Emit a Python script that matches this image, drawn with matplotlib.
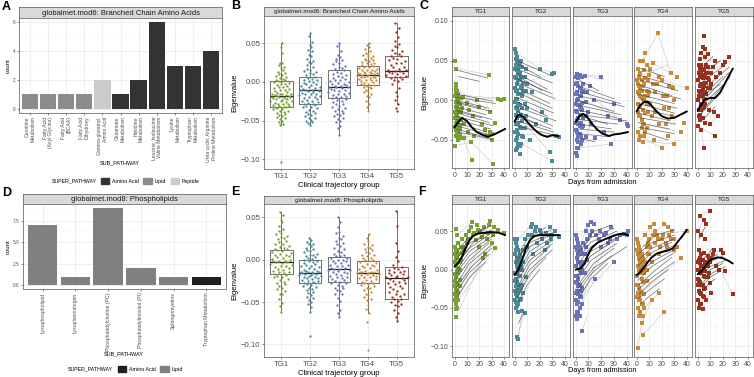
import numpy as np
import matplotlib.pyplot as plt
from matplotlib.patches import Patch

plt.rcParams['font.family'] = ['Liberation Sans', 'DejaVu Sans']

W, H = 754, 377
fig = plt.figure(figsize=(W / 100, H / 100), dpi=100)

# ---------------- data ----------------
a_sub = ["Carnitine\nMetabolism", "Fatty Acid\n(Acyl Glycine)", "Fatty Acid\n(BCAA)",
         "Fatty Acid\nDihydroxy", "Gamma-glutamyl\nAmino Acid", "Glutamate\nMetabolism",
         "Histidine\nMetabolism", "Leucine, Isoleucine\nValine Metabolism", "Lysine\nMetabolism",
         "Tryptophan\nMetabolism", "Urea cycle; Arginine\nProline Metabolism"]
a_count = [1, 1, 1, 1, 2, 1, 2, 6, 3, 3, 4]
a_super = ["Lipid"] * 4 + ["Peptide"] + ["Amino Acid"] * 6

d_sub = ["Lysophospholipid", "Lysoplasmalogen", "Phosphatidylcholine (PC)",
         "Phosphatidylinositol (PI)", "Sphingomyelins", "Tryptophan Metabolism"]
d_count = [7, 1, 9, 2, 1, 1]
d_super = ["Lipid"] * 5 + ["Amino Acid"]

groups = ["TG1", "TG2", "TG3", "TG4", "TG5"]
tg_colors = ["#78a132", "#4b8a99", "#6a74b8", "#c88b3a", "#9c301d"]

# box stats: q1, median, q3, lower whisker, upper whisker
b_box = [(-0.033, -0.018, 0.001, -0.056, 0.050),
         (-0.028, -0.011, 0.006, -0.056, 0.063),
         (-0.021, -0.006, 0.015, -0.069, 0.050),
         (-0.004, 0.009, 0.021, -0.037, 0.050),
         (0.006, 0.014, 0.033, -0.028, 0.076)]
b_vals = [
    [0.050, 0.045, 0.038, 0.025, 0.024, 0.022, 0.018, 0.015, 0.012, 0.010, 0.008, 0.006, 0.004, 0.003,
     0.002, 0.001, 0.000, -0.001, -0.003, -0.004, -0.006, -0.008, -0.009, -0.011, -0.012, -0.014, -0.015,
     -0.016, -0.017, -0.018, -0.018, -0.019, -0.020, -0.021, -0.022, -0.024, -0.025, -0.027, -0.028,
     -0.030, -0.031, -0.032, -0.033, -0.034, -0.035, -0.037, -0.039, -0.041, -0.043, -0.045, -0.048,
     -0.051, -0.054, -0.056, -0.104,
     -0.002, -0.005, -0.007, -0.010, -0.013, -0.015, -0.017, -0.019, -0.020, -0.021, -0.022, -0.023,
     -0.024, -0.026, -0.028, -0.029, -0.031, -0.033, -0.035, -0.038, -0.040, -0.044, -0.047, -0.052,
     0.000, 0.005, 0.009, 0.013, 0.020, -0.016],
    [0.063, 0.060, 0.052, 0.048, 0.045, 0.040, 0.035, 0.030, 0.027, 0.024, 0.020, 0.017, 0.014, 0.011,
     0.009, 0.007, 0.005, 0.003, 0.001, -0.001, -0.003, -0.005, -0.007, -0.008, -0.010, -0.011, -0.012,
     -0.013, -0.015, -0.016, -0.018, -0.020, -0.022, -0.024, -0.026, -0.028, -0.030, -0.032, -0.034,
     -0.036, -0.039, -0.041, -0.044, -0.047, -0.050, -0.053, -0.056,
     0.004, 0.002, 0.000, -0.002, -0.004, -0.006, -0.009, -0.010, -0.011, -0.012, -0.014, -0.015,
     -0.017, -0.019, -0.021, -0.023, -0.025, -0.027, -0.029, -0.031, -0.033, -0.037, -0.040, -0.043,
     -0.046, -0.049, 0.010, 0.013, 0.016, 0.022, 0.026, 0.033, 0.042, -0.052],
    [0.050, 0.046, 0.040, 0.035, 0.032, 0.028, 0.025, 0.021, 0.018, 0.015, 0.013, 0.010, 0.008, 0.005,
     0.003, 0.001, -0.001, -0.003, -0.005, -0.006, -0.007, -0.009, -0.011, -0.013, -0.015, -0.017,
     -0.019, -0.021, -0.023, -0.026, -0.029, -0.032, -0.035, -0.038, -0.041, -0.044, -0.048, -0.052,
     -0.057, -0.060, -0.069,
     0.012, 0.009, 0.006, 0.004, 0.002, 0.000, -0.002, -0.004, -0.005, -0.006, -0.008, -0.010, -0.012,
     -0.014, -0.016, -0.018, -0.020, -0.022, -0.025, -0.028, -0.031, -0.034, -0.037, -0.040, -0.043,
     0.017, 0.020, 0.023, 0.027, 0.030, -0.047, -0.050],
    [0.050, 0.048, 0.045, 0.040, 0.036, 0.034, 0.031, 0.029, 0.027, 0.025, 0.023, 0.021, 0.020, 0.018,
     0.016, 0.015, 0.013, 0.012, 0.011, 0.010, 0.009, 0.009, 0.008, 0.007, 0.006, 0.004, 0.003, 0.002,
     0.000, -0.002, -0.004, -0.005, -0.007, -0.010, -0.013, -0.016, -0.020, -0.025, -0.028, -0.033, -0.037,
     0.019, 0.017, 0.015, 0.014, 0.012, 0.010, 0.008, 0.007, 0.006, 0.005, 0.003, 0.001, -0.001, -0.003,
     -0.006, 0.022, 0.024, 0.026, 0.028, 0.030, 0.033, 0.011, 0.009, 0.013, -0.008, -0.012, -0.018,
     0.035, 0.038, 0.043],
    [0.076, 0.070, 0.065, 0.058, 0.053, 0.049, 0.045, 0.041, 0.037, 0.034, 0.031, 0.028, 0.025, 0.022,
     0.019, 0.017, 0.015, 0.014, 0.013, 0.011, 0.009, 0.007, 0.006, 0.004, 0.001, -0.003, -0.008,
     -0.013, -0.018, -0.023, -0.028, -0.034, -0.037,
     0.030, 0.027, 0.024, 0.020, 0.016, 0.014, 0.012, 0.010, 0.008, 0.005, 0.033, 0.036, 0.040, 0.047, 0.003],
]

e_box = [(-0.017, -0.003, 0.011, -0.062, 0.056),
         (-0.027, -0.016, -0.000, -0.062, 0.025),
         (-0.026, -0.011, 0.003, -0.068, 0.050),
         (-0.028, -0.016, -0.002, -0.063, 0.030),
         (-0.046, -0.022, -0.009, -0.072, 0.057)]
e_vals = [
    [0.056, 0.053, 0.047, 0.044, 0.040, 0.036, 0.032, 0.028, 0.025, 0.022, 0.019, 0.016, 0.014, 0.012,
     0.010, 0.008, 0.006, 0.004, 0.002, 0.001, -0.001, -0.002, -0.003, -0.004, -0.006, -0.008, -0.010,
     -0.012, -0.014, -0.016, -0.018, -0.020, -0.023, -0.026, -0.029, -0.033, -0.037, -0.041, -0.046,
     -0.051, -0.055, -0.062,
     0.009, 0.007, 0.005, 0.003, 0.000, -0.001, -0.003, -0.005, -0.007, -0.009, -0.011, -0.013, -0.015,
     -0.017, -0.019, -0.021, 0.011, 0.013, 0.015, 0.018, 0.021, 0.024, 0.027, 0.030, -0.024, -0.028,
     -0.031, -0.035, -0.040, 0.034],
    [0.025, 0.023, 0.021, 0.018, 0.016, 0.013, 0.011, 0.009, 0.007, 0.005, 0.003, 0.001, -0.001, -0.003,
     -0.005, -0.007, -0.009, -0.011, -0.013, -0.014, -0.015, -0.016, -0.017, -0.018, -0.019, -0.021,
     -0.022, -0.024, -0.025, -0.027, -0.029, -0.031, -0.033, -0.036, -0.039, -0.042, -0.045, -0.048,
     -0.052, -0.056, -0.062, -0.090,
     -0.002, -0.004, -0.006, -0.008, -0.010, -0.012, -0.013, -0.014, -0.015, -0.016, -0.017, -0.018,
     -0.019, -0.020, -0.022, -0.023, -0.025, -0.026, -0.028, -0.030, -0.032, -0.035, -0.038, 0.000,
     0.002, 0.004, 0.006, 0.010, 0.014, 0.019, -0.044, -0.050],
    [0.050, 0.045, 0.038, 0.033, 0.028, 0.024, 0.020, 0.016, 0.012, 0.009, 0.006, 0.004, 0.002, 0.000,
     -0.002, -0.004, -0.006, -0.008, -0.010, -0.011, -0.012, -0.014, -0.016, -0.018, -0.020, -0.022,
     -0.024, -0.026, -0.028, -0.031, -0.034, -0.037, -0.041, -0.045, -0.049, -0.054, -0.059, -0.063, -0.068,
     0.002, 0.000, -0.002, -0.004, -0.006, -0.008, -0.010, -0.011, -0.012, -0.013, -0.015, -0.017,
     -0.019, -0.021, -0.023, -0.025, 0.004, 0.007, 0.010, 0.014, 0.018, 0.022, 0.026, 0.031, -0.027,
     -0.030, -0.033, -0.036, -0.040],
    [0.030, 0.026, 0.022, 0.018, 0.015, 0.012, 0.009, 0.006, 0.004, 0.002, 0.000, -0.002, -0.004, -0.006,
     -0.008, -0.010, -0.012, -0.014, -0.015, -0.016, -0.017, -0.018, -0.020, -0.022, -0.024, -0.026,
     -0.028, -0.030, -0.033, -0.036, -0.040, -0.044, -0.048, -0.053, -0.058, -0.063, -0.073, -0.107,
     -0.003, -0.005, -0.007, -0.009, -0.011, -0.013, -0.014, -0.015, -0.016, -0.017, -0.018, -0.019,
     -0.021, -0.023, -0.025, -0.027, -0.029, 0.000, 0.002, 0.005, 0.008, 0.011, 0.014, 0.017, -0.031,
     -0.034, -0.038, -0.042, -0.046],
    [0.057, 0.040, 0.020, 0.010, 0.003, -0.002, -0.006, -0.009, -0.011, -0.013, -0.015, -0.017, -0.019,
     -0.021, -0.022, -0.023, -0.025, -0.027, -0.029, -0.032, -0.035, -0.038, -0.041, -0.044, -0.046,
     -0.049, -0.052, -0.055, -0.059, -0.063, -0.068, -0.072,
     -0.010, -0.012, -0.014, -0.016, -0.018, -0.020, -0.021, -0.024, -0.026, -0.028, -0.031, -0.034,
     -0.037, -0.040, -0.043, -0.047, -0.050, -0.054],
]

# panel C: observations (day, value), per-patient fits and raw links (d0, v0, d1, v1 ...)
c_pts = [
    [(0, 0.049), (0, -0.057), (1, 0.040), (1, 0.010), (1, 0.005), (1, -0.020), (2, 0.002), (2, -0.005),
     (2, -0.010), (2, -0.025), (2, -0.030), (3, 0.000), (3, -0.015), (3, -0.036), (3, -0.040), (4, -0.044),
     (4, -0.048), (5, 0.003), (1, -0.028), (2, -0.018), (0, -0.033), (1, 0.015), (3, -0.022), (2, -0.035),
     (4, -0.012), (1, -0.008), (2, 0.007), (3, -0.042), (7, 0.004), (8, -0.048), (10, -0.003), (12, -0.012),
     (13, -0.053), (14, -0.075), (15, -0.020), (18, 0.001), (20, -0.008), (22, -0.030), (25, -0.038),
     (28, 0.032), (29, -0.015), (30, -0.043), (30, -0.050), (31, -0.080), (33, -0.028), (35, 0.002),
     (38, 0.000), (40, 0.002),
     (0, 0.005), (1, -0.002), (2, -0.013), (3, -0.027), (4, -0.031), (1, -0.038), (2, -0.045), (0, -0.015),
     (3, 0.008), (1, 0.020), (4, -0.005), (2, -0.040), (5, -0.025), (3, -0.050), (0, -0.022), (6, -0.010),
     (1, -0.045), (2, 0.012), (4, -0.036), (5, -0.015), (8, -0.030), (11, -0.040), (16, -0.045),
     (26, -0.045), (29, -0.040)],
    [(0, 0.065), (1, 0.060), (1, 0.052), (2, 0.050), (3, 0.048), (4, 0.045), (5, 0.050), (6, 0.042),
     (2, 0.038), (3, 0.033), (1, 0.028), (4, 0.025), (2, 0.020), (5, 0.017), (1, 0.012), (3, 0.008),
     (6, 0.005), (2, 0.002), (0, -0.002), (4, -0.006), (1, -0.010), (3, -0.014), (5, -0.018), (2, -0.022),
     (6, -0.026), (1, -0.030), (4, -0.034), (2, -0.038), (3, -0.042), (7, -0.046), (1, -0.050), (5, -0.055),
     (2, -0.060), (4, -0.068), (8, 0.030), (9, 0.012), (10, -0.010), (8, -0.035), (12, -0.050), (14, 0.010),
     (17, -0.030), (20, 0.040), (22, -0.015), (25, -0.025), (28, -0.065), (30, 0.033), (31, 0.035),
     (30, -0.077), (33, -0.045), (35, -0.046), (7, 0.022), (9, -0.020), (0, 0.030), (3, -0.004),
     (0, 0.040), (1, 0.045), (2, 0.055), (3, 0.025), (4, 0.035), (5, 0.030), (6, 0.015), (0, 0.015),
     (1, 0.002), (2, -0.008), (3, -0.028), (4, -0.020), (5, -0.035), (6, -0.045), (0, -0.040), (1, -0.018),
     (2, -0.048), (3, -0.055), (7, 0.010), (8, -0.005), (4, -0.058), (5, 0.008), (1, -0.062), (6, -0.010),
     (3, 0.040), (2, 0.012), (9, 0.040), (10, 0.020)],
    [(0, 0.030), (1, 0.033), (2, 0.028), (3, 0.032), (5, 0.030), (7, 0.031), (1, 0.022), (2, 0.018),
     (4, 0.015), (6, 0.012), (0, 0.008), (3, 0.005), (1, 0.000), (5, -0.003), (2, -0.006), (4, -0.010),
     (0, -0.014), (3, -0.018), (6, -0.022), (1, -0.025), (2, -0.030), (5, -0.034), (0, -0.038), (3, -0.042),
     (8, -0.046), (1, -0.050), (4, -0.055), (2, -0.060), (0, -0.066), (1, -0.070), (9, 0.010), (10, -0.015),
     (12, -0.030), (14, 0.000), (20, 0.030), (15, -0.048), (22, -0.040), (25, -0.020), (28, -0.055),
     (30, -0.005), (35, -0.025), (40, -0.030), (41, -0.032), (8, -0.002), (11, 0.018), (4, -0.028),
     (0, 0.020), (1, 0.010), (2, 0.002), (3, -0.008), (4, -0.018), (5, -0.012), (6, -0.032), (0, -0.005),
     (1, -0.015), (2, -0.022), (3, -0.032), (4, -0.045), (5, -0.050), (6, 0.020), (0, -0.028), (1, -0.040),
     (2, -0.045), (3, 0.015), (7, 0.010), (8, -0.020), (4, 0.005), (2, -0.052), (5, 0.010), (1, -0.060)],
    [(17, 0.085), (5, 0.050), (8, 0.045), (13, 0.047), (1, 0.040), (3, 0.035), (6, 0.038), (2, 0.030),
     (4, 0.025), (7, 0.028), (10, 0.032), (1, 0.020), (3, 0.015), (5, 0.018), (8, 0.012), (2, 0.008),
     (4, 0.004), (6, 0.000), (9, 0.006), (1, -0.004), (3, -0.008), (5, -0.012), (7, -0.016), (2, -0.020),
     (4, -0.025), (6, -0.030), (8, -0.035), (1, -0.040), (3, -0.045), (5, -0.052), (12, -0.020), (15, 0.010),
     (18, -0.030), (20, 0.025), (22, -0.010), (24, 0.005), (25, -0.045), (27, 0.035), (28, -0.020),
     (30, 0.000), (30, -0.055), (32, 0.030), (35, -0.040), (40, 0.015), (38, -0.028), (11, 0.040),
     (14, -0.050), (20, -0.060), (16, 0.020), (26, 0.018),
     (0, 0.025), (1, 0.010), (2, 0.018), (3, 0.005), (4, 0.012), (5, 0.002), (6, 0.020), (7, 0.005),
     (8, -0.005), (9, -0.015), (1, -0.015), (2, -0.008), (3, -0.020), (4, -0.035), (5, -0.030),
     (6, -0.045), (7, -0.040), (2, -0.050), (9, 0.025), (10, 0.010), (11, -0.005), (13, 0.020),
     (15, -0.015), (18, 0.030), (21, 0.005), (23, -0.030), (26, -0.010), (29, 0.015), (7, 0.060), (3, 0.050)],
    [(5, 0.081), (4, 0.067), (6, 0.055), (2, 0.052), (8, 0.058), (3, 0.045), (5, 0.040), (7, 0.045),
     (1, 0.035), (2, 0.030), (4, 0.028), (6, 0.032), (9, 0.035), (0, 0.025), (3, 0.020), (5, 0.018),
     (7, 0.022), (1, 0.012), (2, 0.008), (4, 0.005), (6, 0.010), (8, 0.015), (0, 0.000), (3, -0.004),
     (5, -0.008), (1, -0.012), (2, -0.018), (4, -0.022), (6, -0.028), (0, -0.032), (3, -0.038), (12, 0.042),
     (14, 0.050), (11, 0.020), (13, -0.015), (10, -0.030), (15, 0.030), (18, 0.035), (20, 0.045),
     (22, 0.048), (25, 0.055), (14, -0.045), (5, -0.060), (2, -0.025), (9, -0.012), (16, -0.020),
     (1, 0.045), (2, 0.040), (3, 0.035), (4, 0.038), (5, 0.030), (6, 0.022), (7, 0.035), (8, 0.028),
     (1, 0.005), (2, 0.018), (3, 0.010), (4, 0.015), (5, 0.002), (6, -0.005), (7, 0.008), (1, -0.020),
     (3, -0.012), (4, -0.010), (8, 0.042), (9, 0.025), (10, 0.015), (11, 0.035), (3, 0.060), (6, 0.065)],
]
c_fits = [
    [(2, 0.038, 27, 0.028), (3, 0.030, 20, 0.024), (1, 0.008, 31, -0.001), (1, 0.004, 33, -0.004),
     (1, 0.000, 28, -0.010), (2, -0.004, 30, -0.014), (1, -0.008, 25, -0.018), (1, -0.012, 30, -0.024),
     (2, -0.016, 28, -0.028), (1, -0.020, 31, -0.032), (1, -0.024, 29, -0.036), (2, -0.028, 26, -0.040),
     (1, -0.032, 30, -0.044), (1, -0.036, 24, -0.046), (3, -0.040, 30, -0.049), (1, -0.002, 20, -0.009),
     (2, -0.014, 22, -0.022)],
    [(2, 0.050, 28, 0.032), (3, 0.045, 20, 0.030), (1, 0.040, 30, 0.022), (2, 0.034, 26, 0.014),
     (1, 0.028, 30, 0.008), (2, 0.022, 32, 0.002), (1, 0.016, 28, -0.004), (2, 0.010, 30, -0.010),
     (1, 0.004, 31, -0.016), (2, -0.002, 26, -0.020), (1, -0.008, 33, -0.026), (2, -0.014, 30, -0.032),
     (1, -0.020, 29, -0.036), (2, -0.026, 31, -0.040), (1, -0.032, 35, -0.045), (3, 0.030, 22, 0.012),
     (2, -0.018, 18, -0.030)],
    [(3, 0.025, 18, 0.012), (2, 0.018, 30, 0.002), (1, 0.012, 35, -0.004), (2, 0.006, 38, -0.008),
     (1, 0.000, 30, -0.014), (2, -0.006, 35, -0.018), (1, -0.012, 32, -0.022), (3, -0.018, 40, -0.026),
     (1, -0.024, 33, -0.030), (2, -0.030, 28, -0.036), (1, -0.036, 30, -0.040), (2, -0.042, 27, -0.046),
     (5, -0.020, 25, -0.030), (3, -0.048, 15, -0.052)],
    [(1, 0.032, 30, 0.018), (2, 0.026, 33, 0.012), (1, 0.020, 28, 0.006), (2, 0.014, 35, 0.002),
     (1, 0.008, 30, -0.004), (2, 0.002, 32, -0.010), (1, -0.004, 30, -0.016), (2, -0.010, 29, -0.020),
     (1, -0.016, 27, -0.026), (3, -0.022, 31, -0.030), (1, -0.028, 26, -0.036), (2, -0.034, 30, -0.042),
     (3, 0.040, 22, 0.030), (5, -0.040, 25, -0.050)],
    [(2, 0.030, 18, 0.050), (1, 0.020, 22, 0.045), (2, 0.010, 25, 0.042), (1, 0.000, 20, 0.030),
     (2, -0.005, 25, 0.035), (1, -0.010, 22, 0.022), (3, -0.015, 26, 0.030), (1, -0.020, 15, 0.005),
     (2, 0.040, 12, 0.055), (3, 0.005, 18, 0.020), (4, -0.025, 14, -0.008)],
]
c_raw = [
    [(2, 0.040, 28, 0.032), (1, 0.010, 15, -0.005), (2, -0.030, 14, -0.075), (1, -0.057, 13, -0.053),
     (3, -0.036, 31, -0.080), (4, -0.044, 30, -0.050), (5, 0.003, 35, 0.002), (1, 0.015, 29, -0.015),
     (2, 0.007, 40, 0.002)],
    [(1, 0.060, 20, 0.040), (4, 0.045, 31, 0.035), (2, 0.020, 30, 0.033), (6, -0.026, 28, -0.065),
     (1, -0.050, 30, -0.077), (2, -0.060, 12, -0.050), (5, 0.017, 22, -0.015), (3, -0.042, 33, -0.045),
     (8, -0.035, 17, -0.030)],
    [(1, 0.033, 20, 0.030), (7, 0.031, 22, 0.026), (4, -0.055, 15, -0.048), (2, -0.060, 28, -0.055),
     (0, -0.066, 8, -0.046), (6, 0.012, 40, -0.030), (3, 0.005, 35, -0.025), (1, -0.070, 12, -0.030)],
    [(5, 0.050, 17, 0.085), (17, 0.085, 27, 0.035), (8, 0.045, 20, 0.025), (13, 0.047, 32, 0.030),
     (3, -0.045, 20, -0.060), (5, -0.052, 30, -0.055), (10, 0.032, 40, 0.015), (6, -0.030, 35, -0.040),
     (2, 0.030, 25, 0.045)],
    [(4, 0.067, 8, 0.058), (1, 0.035, 25, 0.055), (0, -0.032, 14, -0.045), (3, -0.038, 5, -0.060),
     (2, 0.052, 14, 0.050), (6, 0.032, 20, 0.045), (10, -0.030, 16, -0.020)],
]
c_smooth_days = [[0, 3, 6, 10, 14, 18, 22, 27, 32, 36, 41],
                 [0, 2, 4, 7, 10, 14, 18, 22, 26, 30, 35],
                 [0, 3, 6, 9, 13, 17, 21, 26, 30, 35, 41],
                 [0, 3, 6, 9, 12, 16, 20, 25, 30, 35, 40],
                 [0, 3, 6, 10, 14, 18, 22, 25, 28]]
c_smooth_vals = [[-0.034, -0.027, -0.022, -0.026, -0.034, -0.040, -0.043, -0.046, -0.043, -0.040, -0.036],
                 [-0.027, -0.020, -0.018, -0.021, -0.027, -0.034, -0.040, -0.044, -0.046, -0.044, -0.045],
                 [-0.027, -0.020, -0.017, -0.021, -0.030, -0.037, -0.042, -0.045, -0.043, -0.042, -0.040],
                 [-0.014, -0.006, -0.002, -0.002, -0.007, -0.014, -0.020, -0.023, -0.022, -0.018, -0.014],
                 [-0.013, -0.005, 0.001, 0.003, 0.003, 0.010, 0.022, 0.031, 0.040]]

# panel F
f_pts = [
    [(1, 0.053), (2, 0.045), (0, 0.030), (1, 0.025), (3, 0.020), (2, 0.015), (0, 0.010), (1, 0.005),
     (3, 0.002), (2, -0.002), (0, -0.006), (1, -0.010), (4, -0.014), (2, -0.018), (0, -0.022), (1, -0.026),
     (3, -0.030), (2, -0.035), (0, -0.040), (1, -0.045), (2, -0.050), (1, -0.062), (4, 0.010), (5, 0.030),
     (6, 0.040), (8, 0.025), (10, 0.035), (12, 0.050), (14, 0.062), (15, 0.045), (17, 0.038), (19, 0.052),
     (20, 0.030), (22, 0.042), (24, 0.055), (25, 0.020), (27, 0.048), (28, 0.058), (29, 0.063), (30, 0.035),
     (31, 0.045), (33, 0.028), (35, 0.052), (40, 0.048), (23, 0.015), (18, 0.058),
     (0, 0.020), (1, 0.015), (2, 0.008), (3, -0.005), (4, 0.000), (0, -0.015), (1, -0.020), (2, -0.028),
     (3, -0.040), (0, -0.032), (1, -0.035), (2, 0.025), (4, -0.022), (5, 0.012), (6, 0.022), (1, -0.052),
     (3, 0.035), (7, 0.030), (9, 0.045), (11, 0.040), (13, 0.055), (16, 0.048), (21, 0.050), (26, 0.040),
     (32, 0.055)],
    [(0, 0.040), (1, 0.035), (2, 0.030), (3, 0.025), (4, 0.020), (5, 0.015), (1, 0.010), (2, 0.005),
     (3, 0.000), (0, -0.004), (4, -0.008), (1, -0.012), (2, -0.016), (3, -0.020), (5, -0.024), (0, -0.028),
     (1, -0.032), (2, -0.036), (4, -0.040), (3, -0.045), (1, -0.050), (6, -0.054), (8, -0.056), (2, -0.088),
     (3, -0.090), (6, 0.010), (7, 0.025), (8, 0.040), (10, 0.030), (12, 0.045), (13, 0.055), (14, 0.060),
     (16, 0.050), (18, 0.035), (20, 0.052), (22, 0.040), (24, 0.025), (25, 0.048), (28, 0.055), (30, 0.045),
     (32, 0.050), (35, 0.042), (9, -0.010), (15, 0.020), (26, 0.035), (2, -0.006), (4, 0.006),
     (0, 0.020), (1, 0.025), (2, 0.015), (3, 0.010), (4, 0.002), (5, 0.005), (0, -0.015), (1, -0.022),
     (2, -0.026), (3, -0.030), (4, -0.028), (5, -0.038), (0, -0.040), (1, -0.042), (2, -0.048),
     (3, -0.055), (6, 0.000), (7, 0.010), (6, -0.020), (7, -0.030), (9, 0.030), (11, 0.045), (14, 0.045),
     (17, 0.055), (21, 0.048), (27, 0.045), (29, 0.040), (2, 0.040)],
    [(0, 0.045), (1, 0.040), (2, 0.035), (3, 0.030), (4, 0.025), (5, 0.020), (1, 0.015), (2, 0.010),
     (0, 0.005), (3, 0.000), (4, -0.004), (1, -0.008), (2, -0.012), (0, -0.016), (3, -0.020), (5, -0.024),
     (1, -0.028), (2, -0.032), (4, -0.036), (0, -0.040), (1, -0.045), (3, -0.050), (2, -0.055), (0, -0.060),
     (1, -0.065), (5, -0.080), (6, 0.035), (8, 0.050), (10, 0.058), (12, 0.062), (14, 0.060), (9, 0.012),
     (15, -0.012), (18, 0.040), (20, 0.030), (22, 0.045), (25, 0.035), (28, 0.055), (30, 0.010),
     (32, 0.040), (35, 0.045), (40, 0.045), (41, 0.050), (38, 0.047), (7, -0.005),
     (0, 0.030), (1, 0.025), (2, 0.020), (3, 0.010), (4, 0.005), (5, 0.000), (0, -0.008), (1, -0.018),
     (2, -0.022), (3, -0.035), (4, -0.028), (5, -0.045), (0, -0.030), (1, -0.055), (2, -0.042), (6, 0.010),
     (7, 0.020), (8, 0.030), (9, 0.040), (11, 0.045), (13, 0.050), (16, 0.045), (19, 0.050), (24, 0.048),
     (27, 0.040), (3, -0.060)],
    [(0, 0.040), (1, 0.035), (2, 0.030), (3, 0.025), (4, 0.020), (5, 0.015), (6, 0.010), (1, 0.005),
     (2, 0.000), (3, -0.004), (0, -0.008), (4, -0.012), (5, -0.016), (1, -0.020), (2, -0.024), (3, -0.028),
     (6, -0.032), (0, -0.036), (2, -0.040), (4, -0.045), (1, -0.050), (3, -0.055), (5, -0.060), (4, -0.070),
     (5, -0.085), (1, -0.102), (7, 0.045), (8, 0.030), (9, 0.020), (10, 0.040), (11, 0.055), (12, 0.010),
     (14, 0.060), (15, 0.035), (16, 0.045), (18, 0.020), (20, 0.040), (22, 0.060), (24, 0.030), (26, 0.045),
     (28, 0.050), (30, 0.025), (30, 0.040), (32, 0.030), (35, 0.015), (40, 0.050), (12, -0.040),
     (18, -0.030), (22, -0.055), (8, -0.015),
     (0, 0.025), (1, 0.020), (2, 0.015), (3, 0.010), (4, 0.005), (5, 0.000), (6, -0.005), (0, -0.020),
     (1, -0.030), (2, -0.035), (3, -0.040), (4, -0.030), (5, -0.045), (6, -0.050), (7, 0.010), (8, 0.000),
     (9, 0.035), (10, 0.020), (11, 0.030), (13, 0.045), (15, 0.050), (17, 0.040), (19, 0.030), (21, 0.045),
     (23, 0.035), (25, 0.055), (27, 0.040), (2, -0.060)],
    [(10, 0.077), (2, 0.070), (5, 0.065), (7, 0.060), (0, 0.050), (3, 0.045), (6, 0.040), (1, 0.025),
     (3, 0.020), (5, 0.022), (8, 0.018), (0, 0.010), (2, 0.008), (4, 0.005), (6, 0.010), (1, 0.000),
     (3, -0.004), (5, -0.008), (0, -0.012), (2, -0.016), (4, -0.020), (6, -0.024), (1, -0.028), (3, -0.032),
     (5, -0.036), (0, -0.040), (2, -0.045), (1, -0.050), (4, -0.052), (7, 0.005), (8, -0.010), (9, 0.012),
     (10, -0.018), (12, 0.020), (13, 0.025), (15, 0.005), (17, 0.000), (19, 0.025), (20, 0.022),
     (22, -0.002), (28, -0.032), (11, -0.030),
     (1, 0.012), (2, 0.015), (3, 0.005), (4, 0.012), (5, 0.000), (6, -0.002), (7, -0.010), (0, -0.020),
     (1, -0.015), (2, -0.030), (3, -0.020), (4, -0.035), (5, -0.025), (6, -0.010), (7, -0.040), (8, 0.005),
     (9, -0.005), (10, 0.010), (11, 0.015), (3, -0.045), (2, -0.005), (0, 0.000)],
]
f_fits = [
    [(1, 0.020, 10, 0.040, 30, 0.058), (1, 0.012, 10, 0.032, 30, 0.052), (1, 0.005, 12, 0.028, 30, 0.048),
     (2, 0.000, 12, 0.024, 32, 0.045), (1, -0.006, 12, 0.018, 30, 0.040), (1, -0.012, 12, 0.012, 28, 0.035),
     (2, -0.018, 12, 0.008, 30, 0.032), (1, -0.024, 14, 0.004, 30, 0.028), (1, -0.030, 12, -0.004, 28, 0.020),
     (2, -0.036, 12, -0.010, 25, 0.010), (5, 0.025, 15, 0.045, 25, 0.055), (3, 0.010, 15, 0.035, 22, 0.042)],
    [(1, 0.015, 10, 0.040, 30, 0.052), (1, 0.008, 10, 0.034, 30, 0.048), (1, 0.000, 12, 0.030, 28, 0.045),
     (2, -0.006, 12, 0.024, 30, 0.042), (1, -0.012, 12, 0.018, 30, 0.038), (1, -0.018, 12, 0.012, 30, 0.034),
     (2, -0.024, 12, 0.006, 28, 0.030), (1, -0.030, 12, 0.000, 30, 0.026), (2, -0.036, 12, -0.006, 25, 0.016),
     (3, -0.042, 10, -0.020, 20, 0.000), (5, 0.020, 15, 0.045, 25, 0.055), (3, -0.070, 6, -0.060, 8, -0.055)],
    [(1, 0.020, 12, 0.042, 30, 0.054), (1, 0.012, 12, 0.036, 32, 0.050), (1, 0.005, 12, 0.030, 30, 0.046),
     (2, -0.002, 12, 0.024, 35, 0.044), (1, -0.008, 12, 0.018, 30, 0.038), (1, -0.014, 12, 0.012, 32, 0.034),
     (2, -0.020, 14, 0.008, 30, 0.028), (1, -0.026, 14, 0.002, 40, 0.030), (1, -0.032, 12, -0.006, 28, 0.018),
     (2, -0.038, 12, -0.012, 25, 0.008), (6, 0.030, 14, 0.050, 28, 0.058)],
    [(1, 0.020, 12, 0.035, 30, 0.045), (1, 0.012, 12, 0.028, 30, 0.040), (1, 0.005, 12, 0.022, 28, 0.036),
     (2, -0.002, 12, 0.016, 30, 0.032), (1, -0.008, 12, 0.010, 32, 0.028), (1, -0.014, 12, 0.004, 30, 0.022),
     (2, -0.020, 14, -0.002, 28, 0.016), (1, -0.026, 14, -0.008, 30, 0.010), (2, -0.032, 12, -0.016, 25, 0.000),
     (1, -0.038, 12, -0.024, 22, -0.012), (5, 0.030, 15, 0.045, 30, 0.052), (3, -0.045, 10, -0.035, 18, -0.025)],
    [(1, -0.002, 10, 0.010, 20, 0.018), (2, -0.008, 10, 0.004, 22, 0.012), (1, -0.014, 10, 0.000, 20, 0.008),
     (2, -0.020, 12, -0.004, 22, 0.004), (1, -0.026, 10, -0.010, 18, -0.002), (3, 0.002, 10, 0.014, 16, 0.020),
     (2, 0.010, 8, 0.020, 12, 0.028), (1, 0.040, 4, 0.050, 6, 0.055), (2, -0.032, 8, -0.020, 14, -0.012)],
]
f_raw = [
    [(2, 0.045, 14, 0.062), (1, -0.040, 25, 0.020), (1, -0.062, 23, 0.015), (12, 0.050, 40, 0.048),
     (0, -0.022, 30, 0.035), (19, 0.052, 35, 0.052), (1, -0.045, 33, 0.028), (3, -0.030, 29, 0.063)],
    [(1, 0.035, 14, 0.060), (3, -0.090, 6, -0.054), (2, -0.088, 8, -0.056), (0, -0.028, 22, 0.040),
     (2, -0.036, 24, 0.025), (4, -0.040, 12, -0.020), (5, 0.015, 28, 0.055), (1, -0.050, 9, -0.010)],
    [(1, 0.040, 12, 0.062), (5, -0.080, 9, -0.060), (0, -0.060, 15, -0.012), (2, -0.055, 20, 0.030),
     (3, 0.030, 10, 0.058), (4, -0.036, 30, 0.010), (1, -0.045, 25, 0.035), (0, 0.005, 41, 0.050)],
    [(1, 0.035, 14, 0.060), (4, -0.070, 12, -0.040), (5, -0.085, 22, -0.055), (1, -0.102, 5, -0.060),
     (10, 0.040, 22, 0.060), (3, -0.055, 18, -0.030), (7, 0.045, 40, 0.050), (0, -0.036, 35, 0.015)],
    [(2, 0.070, 10, 0.077), (0, 0.050, 5, 0.065), (3, 0.045, 7, 0.060), (12, 0.020, 28, -0.032),
     (4, -0.052, 11, -0.030), (8, 0.018, 19, 0.025), (1, -0.050, 10, -0.018)],
]
f_smooth_days = [[0, 3, 6, 9, 12, 15, 19, 24, 30, 36, 41],
                 [0, 3, 6, 9, 12, 15, 19, 25, 30, 36],
                 [0, 4, 7, 10, 13, 17, 22, 28, 33, 37, 41],
                 [0, 3, 6, 9, 12, 16, 20, 25, 29, 33, 37, 40],
                 [0, 3, 6, 9, 12, 16, 20, 24, 28]]
f_smooth_vals = [[0.004, 0.009, 0.017, 0.028, 0.038, 0.044, 0.047, 0.048, 0.049, 0.048, 0.045],
                 [-0.007, 0.000, 0.013, 0.027, 0.038, 0.043, 0.045, 0.045, 0.045, 0.045],
                 [0.000, 0.002, 0.008, 0.021, 0.029, 0.035, 0.039, 0.043, 0.046, 0.047, 0.045],
                 [-0.007, -0.003, 0.003, 0.010, 0.016, 0.021, 0.023, 0.025, 0.028, 0.037, 0.045, 0.052],
                 [-0.006, -0.002, 0.004, 0.011, 0.014, 0.016, 0.015, 0.012, 0.008]]

# ---------------- helpers ----------------
GRID = '#ebebeb'
BORDER = '#555555'
TICKC = '#4d4d4d'


def px_axes(x0, y0, x1, y1):
    return fig.add_axes([x0 / W, 1 - y1 / H, (x1 - x0) / W, (y1 - y0) / H])


def strip(x0, y0, x1, y1, text, size):
    s = px_axes(x0, y0, x1, y1)
    s.set_facecolor('#d9d9d9')
    s.set_xticks([])
    s.set_yticks([])
    for sp in s.spines.values():
        sp.set_color(BORDER)
        sp.set_linewidth(0.5)
    s.text(0.5, 0.45, text, ha='center', va='center', fontsize=size, color='#1a1a1a',
           transform=s.transAxes)
    return s


def bw(ax, size):
    ax.set_facecolor('white')
    for sp in ax.spines.values():
        sp.set_color(BORDER)
        sp.set_linewidth(0.5)
    ax.grid(True, which='major', color=GRID, lw=0.6)
    ax.grid(True, which='minor', color='#f3f3f3', lw=0.35)
    ax.set_axisbelow(True)
    ax.tick_params(which='major', length=1.6, width=0.4, color='#333333', pad=1,
                   labelsize=size, labelcolor=TICKC)
    ax.tick_params(which='minor', length=0)


def minus(v, fmt):
    return fmt.format(v).replace('-', '\u2212')


def vdc(n):
    # van der Corput sequence, base 2
    x, den = 0.0, 1.0
    while n:
        den *= 2
        n, r = divmod(n, 2)
        x += r / den
    return x


def quasirandom(vals, width=0.4, bw_=0.007):
    # quasirandom spread scaled by a kernel density of the values (like ggbeeswarm)
    v = np.asarray(vals)
    dens = np.exp(-((v[:, None] - v[None, :]) ** 2) / (2 * bw_ ** 2)).sum(axis=1)
    dens = dens / dens.max()
    order = np.argsort(v)
    offs = np.zeros(len(v))
    for rank, i in enumerate(order):
        offs[i] = (vdc(rank + 1) * 2 - 1) * width * dens[i]
    return offs


def bar_panel(box, sy, title, subs, counts, supers, fills, ylim, yticks, ylabels, yminor, lsize):
    strip(box[0], sy[0], box[2], sy[1], title, 5.5)
    ax = px_axes(*box)
    bw(ax, 3.4)
    xs = np.arange(len(subs))
    ax.bar(xs, counts, width=0.9, color=[fills[s] for s in supers], zorder=2)
    ax.set_xlim(-0.6, len(subs) - 0.4)
    ax.set_ylim(*ylim)
    ax.set_yticks(yticks)
    ax.set_yticklabels(ylabels)
    ax.set_yticks(yminor, minor=True)
    ax.set_xticks(xs)
    ax.set_xticklabels(subs, rotation=90, va='top', ha='center', multialignment='right',
                       fontsize=lsize)
    ax.set_ylabel('count', fontsize=4.3, labelpad=1.5)
    return ax


def box_panel(box, sy, title, stats, vals, ylim, yticks):
    strip(box[0], sy[0], box[2], sy[1], title, 4.6)
    ax = px_axes(*box)
    bw(ax, 5.6)
    ax.set_xlim(0.4, 5.6)
    ax.set_ylim(*ylim)
    st = [dict(q1=q1, med=m, q3=q3, whislo=lo, whishi=hi, fliers=[]) for q1, m, q3, lo, hi in stats]
    ax.bxp(st, positions=range(1, 6), widths=0.78, showfliers=False, showcaps=False,
           boxprops=dict(color='#5a5a5a', lw=0.6), whiskerprops=dict(color='#5a5a5a', lw=0.6),
           medianprops=dict(color='#1a1a1a', lw=0.9), manage_ticks=False, zorder=2)
    for g in range(5):
        off = quasirandom(vals[g])
        ax.scatter(g + 1 + off, vals[g], s=2.8, color=tg_colors[g], lw=0, zorder=3)
    ax.set_xticks(range(1, 6))
    ax.set_xticklabels(groups)
    ax.set_yticks(yticks)
    ax.set_yticklabels([minus(v, '{:.2f}') for v in yticks])
    ax.set_ylabel('Eigenvalue', fontsize=5.6, labelpad=1.5)
    ax.set_xlabel('Clinical trajectory group', fontsize=5.6, labelpad=1.5)
    return ax


def traj_panel(sy, ay, pts, fits, raws, sm_d, sm_v, ylim, yticks, yminor):
    xs = [(452, 509), (512, 570), (573, 632), (634, 692), (695, 753)]
    for g in range(5):
        x0, x1 = xs[g]
        strip(x0, sy[0], x1, sy[1], groups[g], 4.5)
        ax = px_axes(x0, ay[0], x1, ay[1])
        bw(ax, 5.0)
        for r in raws[g]:
            ax.plot(r[0::2], r[1::2], color='#c4c4c4', lw=0.4, zorder=2)
        d = [p[0] for p in pts[g]]
        v = [p[1] for p in pts[g]]
        ax.scatter(d, v, s=6, marker='s', color=tg_colors[g], lw=0, zorder=3)
        for f in fits[g]:
            ax.plot(f[0::2], f[1::2], color='#3a3a3a', lw=0.5, alpha=0.75, zorder=4)
        ax.plot(sm_d[g], sm_v[g], color='black', lw=1.4, zorder=5, solid_capstyle='round')
        ax.set_xlim(-2.1, 44.1)
        ax.set_ylim(*ylim)
        ax.set_xticks([0, 10, 20, 30, 40])
        ax.set_xticks([5, 15, 25, 35], minor=True)
        ax.set_yticks(yticks)
        ax.set_yticks(yminor, minor=True)
        if g == 0:
            ax.set_yticklabels([minus(t, '{:.2f}') for t in yticks])
            ax.set_ylabel('Eigenvalue', fontsize=5.0, labelpad=1.5)
        else:
            ax.tick_params(axis='y', which='both', length=0, labelleft=False)


# ---------------- panels ----------------
fills_a = {'Amino Acid': '#333333', 'Lipid': '#8c8c8c', 'Peptide': '#cbcbcb'}
bar_panel((19, 18, 222, 113), (7, 18), 'globalmet.mod6: Branched Chain Amino Acids',
          a_sub, a_count, a_super, fills_a, (-0.3, 6.3), [0, 2, 4, 6], ['0', '2', '4', '6'], [1, 3, 5], 3.6)
fig.text(120 / W, 1 - 163 / H, 'SUB_PATHWAY', ha='center', va='center', fontsize=4.0)
fig.text(52 / W, 1 - 181 / H, 'SUPER_PATHWAY', ha='left', va='center', fontsize=3.8)
fig.legend([Patch(color=fills_a[k]) for k in ['Amino Acid', 'Lipid', 'Peptide']],
           ['Amino Acid', 'Lipid', 'Peptide'], ncol=3, loc='center left',
           bbox_to_anchor=(98 / W, 1 - 181 / H), frameon=False, fontsize=3.8,
           handlelength=1.6, handleheight=1.6, handletextpad=0.5, columnspacing=0.9, borderpad=0)

fills_d = {'Amino Acid': '#1f1f1f', 'Lipid': '#808080'}
bar_panel((23, 204, 226, 289), (194, 204), 'globalmet.mod8: Phospholipids',
          d_sub, d_count, d_super, fills_d, (-0.45, 9.45), [0, 2.5, 5, 7.5],
          ['0.0', '2.5', '5.0', '7.5'], [1.25, 3.75, 6.25, 8.75], 3.7)
fig.text(124 / W, 1 - 354 / H, 'SUB_PATHWAY', ha='center', va='center', fontsize=4.0)
fig.text(68 / W, 1 - 369 / H, 'SUPER_PATHWAY', ha='left', va='center', fontsize=3.8)
fig.legend([Patch(color=fills_d[k]) for k in ['Amino Acid', 'Lipid']],
           ['Amino Acid', 'Lipid'], ncol=2, loc='center left',
           bbox_to_anchor=(115 / W, 1 - 369 / H), frameon=False, fontsize=3.8,
           handlelength=1.6, handleheight=1.6, handletextpad=0.5, columnspacing=0.9, borderpad=0)

box_panel((264, 16, 414, 169), (7, 16), 'globalmet.mod6: Branched Chain Amino Acids',
          b_box, b_vals, (-0.1126, 0.0854), [-0.10, -0.05, 0.00, 0.05])
box_panel((264, 204, 414, 357), (196, 204), 'globalmet.mod8: Phospholipids',
          e_box, e_vals, (-0.1149, 0.0657), [-0.10, -0.05, 0.00, 0.05])

traj_panel((7, 16), (16, 168), c_pts, c_fits, c_raw, c_smooth_days, c_smooth_vals,
           (-0.0853, 0.1063), [-0.05, 0.00, 0.05, 0.10], [-0.075, -0.025, 0.025, 0.075])
fig.text(602 / W, 1 - 183 / H, 'Days from admission', ha='center', va='center', fontsize=5.3)
traj_panel((195, 204), (204, 357), f_pts, f_fits, f_raw, f_smooth_days, f_smooth_vals,
           (-0.114, 0.0856), [-0.10, -0.05, 0.00, 0.05], [-0.075, -0.025, 0.025, 0.075])
fig.text(602 / W, 1 - 371 / H, 'Days from admission', ha='center', va='center', fontsize=5.3)

for lab, x, y in [('A', 2, 7), ('B', 231, 6), ('C', 420, 6), ('D', 2, 193), ('E', 231, 192), ('F', 418, 192)]:
    fig.text(x / W, 1 - y / H, lab, ha='left', va='center', fontsize=9, fontweight='bold')

fig.savefig('out.png', dpi=100)
